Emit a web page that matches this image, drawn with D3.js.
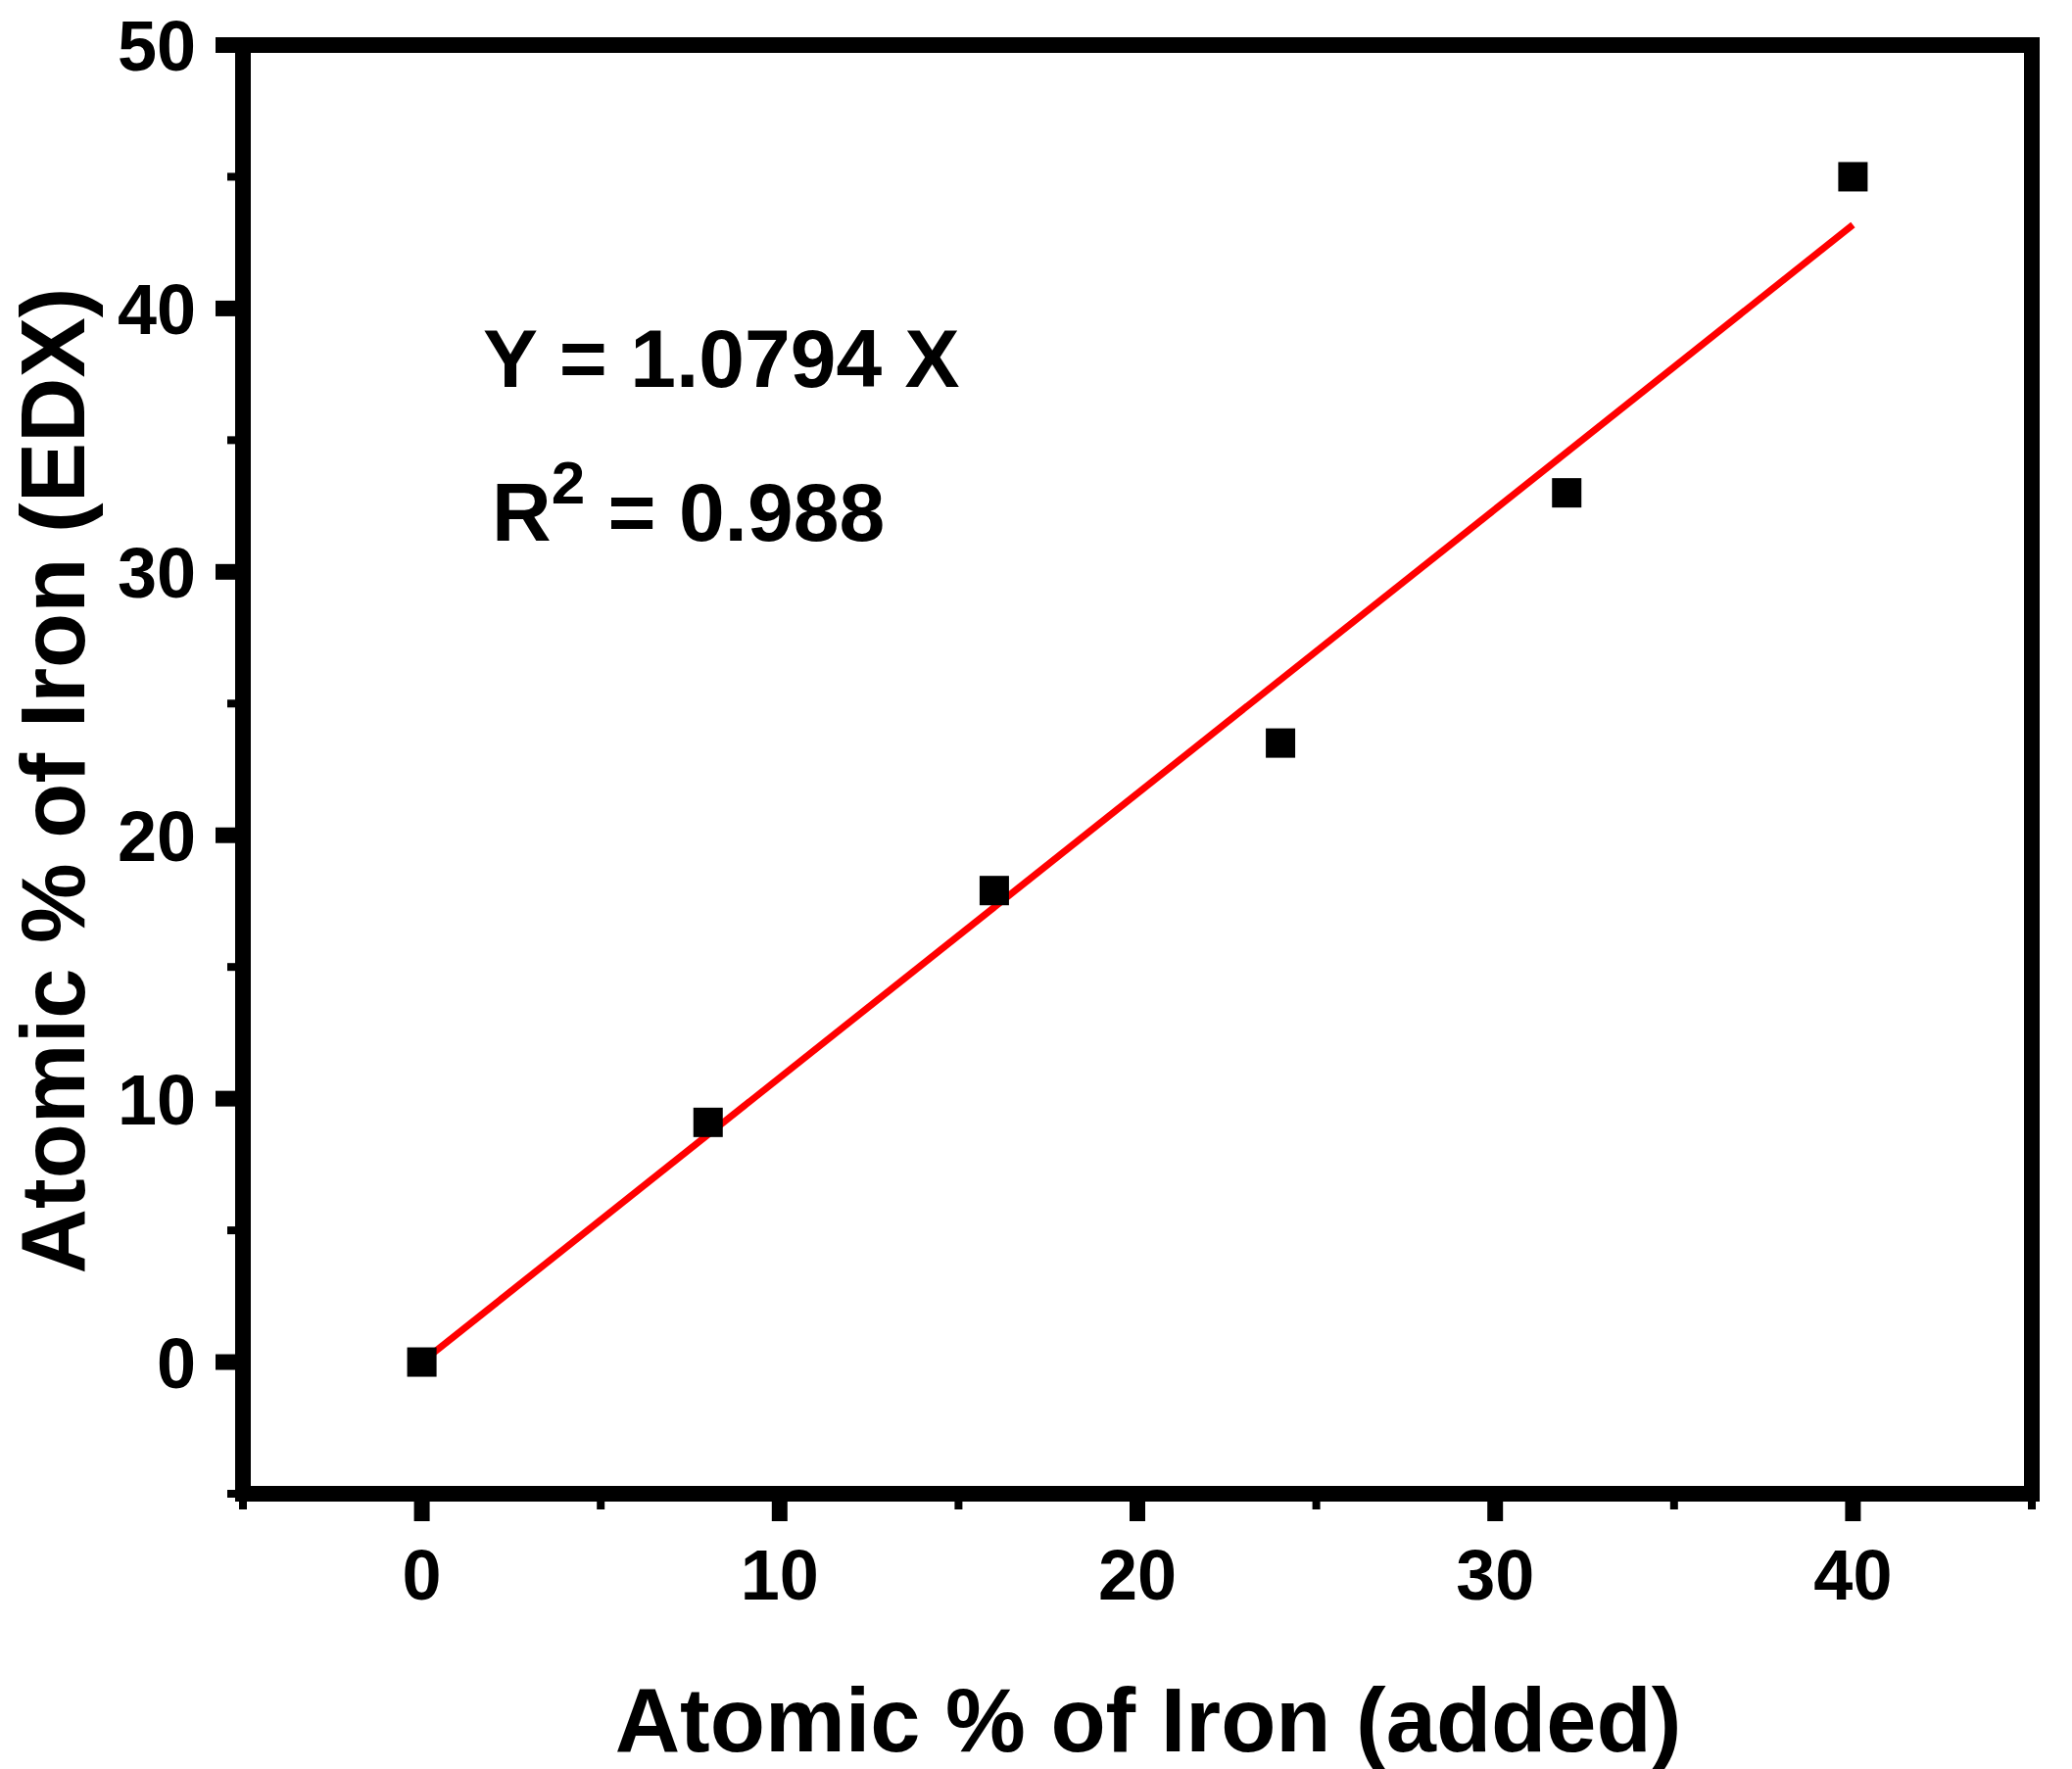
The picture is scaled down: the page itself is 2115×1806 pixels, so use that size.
<!DOCTYPE html>
<html><head><meta charset="utf-8">
<script src="https://cdn.jsdelivr.net/npm/d3@7"></script>
<style>body{margin:0;background:#fff}text{font-family:"Liberation Sans",Arial,sans-serif;font-weight:bold}</style>
</head><body><svg id="c" width="2115" height="1806"></svg>
<script>
const xAdded = [0, 8, 16, 24, 32, 40];
const yEDX = [0, 9.1, 17.9, 23.5, 33.0, 45.0];
const slope = 1.0794;
const fitX = [0, 40];
const xTicks = [0, 10, 20, 30, 40];
const yTicks = [0, 10, 20, 30, 40, 50];

const svg = d3.select("#c");
const L = 248, R = 2074, T = 46, B = 1525;
const x = d3.scaleLinear().domain([-5, 45]).range([L, R]);
const y = d3.scaleLinear().domain([-5, 50]).range([B, T]);

// minor ticks
const xMinor = d3.range(-5, 46, 5), yMinor = d3.range(-5, 51, 5);
svg.append("g").selectAll("line").data(xMinor).join("line")
  .attr("x1", d => x(d)).attr("x2", d => x(d)).attr("y1", B).attr("y2", B + 16)
  .attr("stroke", "#000").attr("stroke-width", 8);
svg.append("g").selectAll("line").data(yMinor).join("line")
  .attr("y1", d => y(d)).attr("y2", d => y(d)).attr("x1", L).attr("x2", L - 16)
  .attr("stroke", "#000").attr("stroke-width", 8);
// major ticks
svg.append("g").selectAll("line").data(xTicks).join("line")
  .attr("x1", d => x(d)).attr("x2", d => x(d)).attr("y1", B).attr("y2", B + 28)
  .attr("stroke", "#000").attr("stroke-width", 16);
svg.append("g").selectAll("line").data(yTicks).join("line")
  .attr("y1", d => y(d)).attr("y2", d => y(d)).attr("x1", L).attr("x2", L - 28)
  .attr("stroke", "#000").attr("stroke-width", 16);
// frame
svg.append("rect").attr("x", L).attr("y", T).attr("width", R - L).attr("height", B - T)
  .attr("fill", "none").attr("stroke", "#000").attr("stroke-width", 16);

svg.append("g").selectAll("text").data(xTicks).join("text")
  .attr("x", d => x(d)).attr("y", 1633).attr("text-anchor", "middle")
  .attr("font-size", 72).text(d => d);
svg.append("g").selectAll("text").data(yTicks).join("text")
  .attr("x", 200).attr("y", d => y(d) + 26).attr("text-anchor", "end")
  .attr("font-size", 72).text(d => d);

// fit line
svg.append("line").attr("x1", x(fitX[0])).attr("y1", y(slope * fitX[0]))
  .attr("x2", x(fitX[1])).attr("y2", y(slope * fitX[1]))
  .attr("stroke", "#ff0000").attr("stroke-width", 7);

// points
const s = 30;
svg.append("g").selectAll("rect").data(xAdded).join("rect")
  .attr("x", (d) => x(d) - s / 2).attr("y", (d, i) => y(yEDX[i]) - s / 2)
  .attr("width", s).attr("height", s).attr("fill", "#000");

// equation
svg.append("text").attr("x", 493).attr("y", 395).attr("font-size", 84).text("Y = 1.0794 X");
const r2 = svg.append("text").attr("x", 502).attr("y", 552).attr("font-size", 84);
r2.append("tspan").text("R");
r2.append("tspan").attr("dy", -38).attr("font-size", 62).text("2");
r2.append("tspan").attr("dy", 38).text(" = 0.988");

// axis titles
svg.append("text").attr("x", 1172).attr("y", 1788).attr("text-anchor", "middle")
  .attr("font-size", 92).text("Atomic % of Iron (added)");
svg.append("text").attr("transform", "translate(86,797) rotate(-90)").attr("text-anchor", "middle")
  .attr("font-size", 92).text("Atomic % of Iron (EDX)");
</script></body></html>
